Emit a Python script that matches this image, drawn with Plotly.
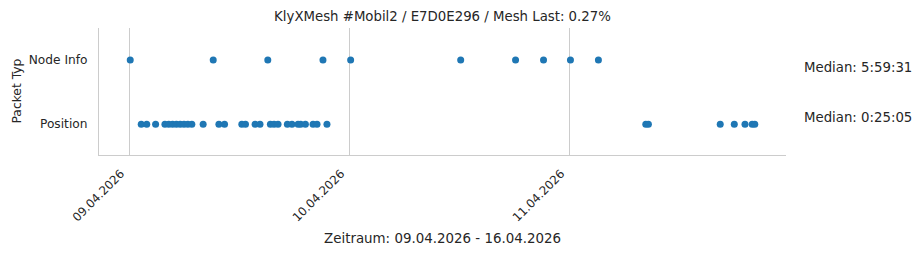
import pandas as pd
import plotly.graph_objects as go

title = "KlyXMesh #Mobil2 / E7D0E296 / Mesh Last: 0.27%"
categories = ["Position", "Node Info"]

node_info_times = [
    "2026-04-09 00:08", "2026-04-09 09:11", "2026-04-09 15:08", "2026-04-09 21:09",
    "2026-04-10 00:10", "2026-04-10 12:10", "2026-04-10 18:09", "2026-04-10 21:12",
    "2026-04-11 00:08", "2026-04-11 03:11",
]
position_times = [
    "2026-04-09 01:20", "2026-04-09 01:56", "2026-04-09 02:54",
    "2026-04-09 03:55", "2026-04-09 04:20", "2026-04-09 04:45", "2026-04-09 05:10",
    "2026-04-09 05:35", "2026-04-09 06:00", "2026-04-09 06:25", "2026-04-09 06:51",
    "2026-04-09 08:05", "2026-04-09 09:48", "2026-04-09 10:25", "2026-04-09 12:18",
    "2026-04-09 12:42", "2026-04-09 13:45", "2026-04-09 14:17", "2026-04-09 15:25",
    "2026-04-09 15:49", "2026-04-09 16:15", "2026-04-09 17:16", "2026-04-09 17:46",
    "2026-04-09 18:26", "2026-04-09 18:43", "2026-04-09 19:14", "2026-04-09 20:04",
    "2026-04-09 20:30", "2026-04-09 21:35",
    "2026-04-11 08:21", "2026-04-11 08:38", "2026-04-11 16:28", "2026-04-11 18:00",
    "2026-04-11 19:10", "2026-04-11 19:57", "2026-04-11 20:14",
]
medians = {"Node Info": "Median: 5:59:31", "Position": "Median: 0:25:05"}
x_title = "Zeitraum: 09.04.2026 - 16.04.2026"
y_title = "Packet Typ"

all_t = pd.to_datetime(node_info_times + position_times)
span = all_t.max() - all_t.min()
x_range = [all_t.min() - 0.05 * span, all_t.max() + 0.05 * span]

color = "#1f77b4"
text_color = "#262626"
font = "DejaVu Sans"

fig = go.Figure()
fig.add_trace(go.Scatter(
    x=pd.to_datetime(node_info_times), y=[1] * len(node_info_times),
    mode="markers", marker=dict(color=color, size=7), showlegend=False))
fig.add_trace(go.Scatter(
    x=pd.to_datetime(position_times), y=[0] * len(position_times),
    mode="markers", marker=dict(color=color, size=7), showlegend=False))

fig.update_layout(
    width=923, height=255,
    margin=dict(l=99, r=137, t=28, b=100),
    paper_bgcolor="white", plot_bgcolor="white",
    font=dict(family=font, size=12, color=text_color),
    title=dict(text=title, x=0.5, xref="paper", xanchor="center",
               y=1 - 16 / 255, yref="container", yanchor="middle",
               font=dict(size=13.3, color=text_color)),
)
fig.update_xaxes(
    type="date", range=x_range,
    tick0="2026-04-09", dtick=86400000, tickformat="%d.%m.%Y",
    tickangle=-45, showgrid=True, gridcolor="#cccccc", gridwidth=1,
    showline=True, linecolor="#cccccc", linewidth=1.2,
    ticks="", zeroline=False, tickfont=dict(size=11.8),
    ticklabelstandoff=6, ticklabelshift=-8,
)
fig.update_yaxes(
    range=[-0.48, 1.5], tickvals=[0, 1], ticktext=categories,
    showgrid=False, showline=True, linecolor="#cccccc", linewidth=1.2,
    ticks="", zeroline=False, ticklabelstandoff=8, tickfont=dict(size=12.2),
)

fig.add_annotation(text=x_title, xref="paper", yref="paper", x=0.5, y=-83 / 127,
                   xanchor="center", yanchor="middle", showarrow=False,
                   font=dict(size=13.4, color=text_color))
fig.add_annotation(text=y_title, xref="paper", yref="paper", x=-83 / 687, y=0.5,
                   xanchor="center", yanchor="middle", textangle=-90, showarrow=False,
                   font=dict(size=12.3, color=text_color))
fig.add_annotation(text=medians["Node Info"], xref="paper", yref="y", x=1 + 16 / 687, y=0.89,
                   xanchor="left", yanchor="middle", showarrow=False,
                   font=dict(size=13.3, color=text_color))
fig.add_annotation(text=medians["Position"], xref="paper", yref="y", x=1 + 16 / 687, y=0.11,
                   xanchor="left", yanchor="middle", showarrow=False,
                   font=dict(size=13.3, color=text_color))

fig.write_html("out.html")
